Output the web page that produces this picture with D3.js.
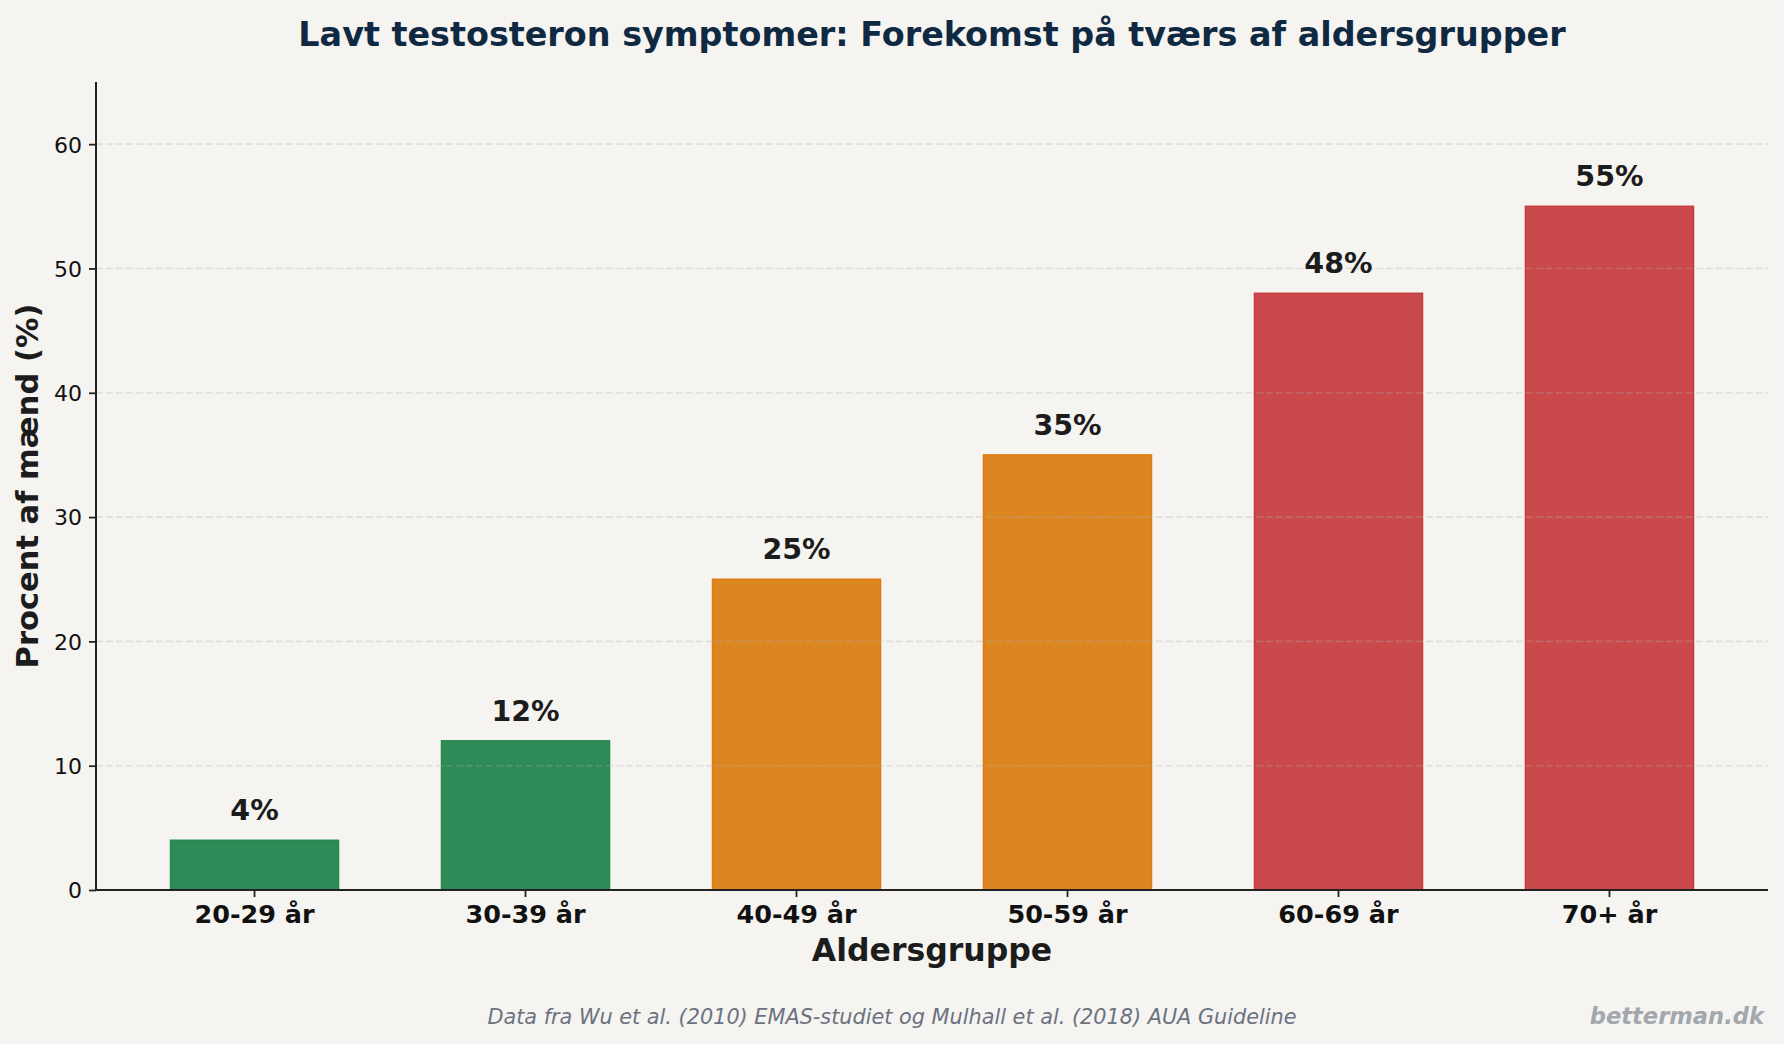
<!DOCTYPE html>
<html>
<head>
<meta charset="utf-8">
<script src="https://cdn.jsdelivr.net/npm/d3@7"></script>
<style>
  body { margin: 0; background: #f5f4f1; }
  svg { display: block; font-family: "DejaVu Sans", sans-serif; }
</style>
</head>
<body>
<div id="plot"></div>
<script>
// Data
var ageGroups = ['20-29 år', '30-39 år', '40-49 år', '50-59 år', '60-69 år', '70+ år'];
var prevalence = [4, 12, 25, 35, 48, 55];
var barColors = ['#2e8b57', '#2e8b57', '#dc8622', '#dc8622', '#ca494a', '#ca494a'];
var edgeColors = ['#228a4c', '#228a4c', '#e07b10', '#e07b10', '#c73a3e', '#c73a3e'];
var yTicks = [0, 10, 20, 30, 40, 50, 60];

// Initializations
var width = 1784;
var height = 1044;
var padLeft = 96, padRight = 1768, padTop = 82, padBottom = 890;

var svg = d3.select('#plot')
    .append('svg')
    .attr('width', width)
    .attr('height', height);

svg.append('rect')
    .attr('width', width)
    .attr('height', height)
    .attr('fill', '#f5f4f1');

// Scales
var x = d3.scaleBand()
    .domain(ageGroups)
    .range([padLeft, padRight])
    .paddingInner(0.38)
    .paddingOuter(0.275);

var y = d3.scaleLinear()
    .domain([0, 65])
    .range([padBottom, padTop]);

// Bars
svg.append('g')
    .selectAll('rect')
    .data(prevalence)
    .enter()
    .append('rect')
    .attr('x', function(d, i) { return x(ageGroups[i]); })
    .attr('y', function(d) { return y(d); })
    .attr('width', x.bandwidth())
    .attr('height', function(d) { return y(0) - y(d); })
    .attr('fill', function(d, i) { return barColors[i]; })
    .attr('stroke', function(d, i) { return edgeColors[i]; })
    .attr('stroke-width', 1.5);

// Grid (drawn over the bars, like the original)
svg.append('g')
    .selectAll('line')
    .data(yTicks.filter(function(t) { return t > 0; }))
    .enter()
    .append('line')
    .attr('x1', padLeft)
    .attr('x2', padRight)
    .attr('y1', function(d) { return y(d); })
    .attr('y2', function(d) { return y(d); })
    .attr('stroke', '#b0b0b0')
    .attr('stroke-opacity', 0.3)
    .attr('stroke-width', 1.6)
    .attr('stroke-dasharray', '7,3');

// Value labels
svg.append('g')
    .selectAll('text')
    .data(prevalence)
    .enter()
    .append('text')
    .attr('x', function(d, i) { return x(ageGroups[i]) + x.bandwidth() / 2; })
    .attr('y', function(d) { return y(d) - 20; })
    .attr('text-anchor', 'middle')
    .style('font-size', '28.5px')
    .style('font-weight', 'bold')
    .attr('fill', '#1c1c1c')
    .text(function(d) { return d + '%'; });

// Y axis
var yAxis = svg.append('g')
    .attr('transform', 'translate(' + padLeft + ',0)')
    .call(d3.axisLeft(y).tickValues(yTicks).tickSize(7).tickPadding(7));
yAxis.selectAll('text')
    .style('font-size', '22px')
    .style('font-family', '"DejaVu Sans", sans-serif')
    .attr('fill', '#111')
    .attr('dy', '0.36em');

// X axis
var xAxis = svg.append('g')
    .attr('transform', 'translate(0,' + padBottom + ')')
    .call(d3.axisBottom(x).tickSize(7).tickPadding(8));
xAxis.selectAll('text')
    .style('font-size', '25.5px')
    .style('font-weight', 'bold')
    .style('font-family', '"DejaVu Sans", sans-serif')
    .attr('fill', '#111');

svg.selectAll('.domain').attr('stroke', '#222').attr('stroke-width', 2);
svg.selectAll('.tick line').attr('stroke', '#222').attr('stroke-width', 1.8);
// keep spines to the plot area only
yAxis.select('.domain').attr('d', 'M0,' + padTop + 'V' + padBottom);
xAxis.select('.domain').attr('d', 'M' + padLeft + ',0H' + padRight);

// Title
svg.append('text')
    .attr('x', (padLeft + padRight) / 2)
    .attr('y', 46)
    .attr('text-anchor', 'middle')
    .style('font-size', '33.4px')
    .style('font-weight', 'bold')
    .attr('fill', '#0f2942')
    .text('Lavt testosteron symptomer: Forekomst på tværs af aldersgrupper');

// Axis labels
svg.append('text')
    .attr('x', (padLeft + padRight) / 2)
    .attr('y', 961)
    .attr('text-anchor', 'middle')
    .style('font-size', '31.5px')
    .style('font-weight', 'bold')
    .attr('fill', '#1c1c1c')
    .text('Aldersgruppe');

svg.append('text')
    .attr('transform', 'translate(38,' + ((padTop + padBottom) / 2) + ') rotate(-90)')
    .attr('text-anchor', 'middle')
    .style('font-size', '30.5px')
    .style('font-weight', 'bold')
    .attr('fill', '#1c1c1c')
    .text('Procent af mænd (%)');

// Footnote and watermark
svg.append('text')
    .attr('x', width / 2)
    .attr('y', 1024)
    .attr('text-anchor', 'middle')
    .style('font-size', '20.8px')
    .style('font-style', 'italic')
    .attr('fill', '#6b7280')
    .text('Data fra Wu et al. (2010) EMAS-studiet og Mulhall et al. (2018) AUA Guideline');

svg.append('text')
    .attr('x', 1764)
    .attr('y', 1024)
    .attr('text-anchor', 'end')
    .style('font-size', '22.6px')
    .style('font-style', 'italic')
    .style('font-weight', 'bold')
    .attr('fill', '#a3a7ae')
    .text('betterman.dk');
</script>
</body>
</html>
